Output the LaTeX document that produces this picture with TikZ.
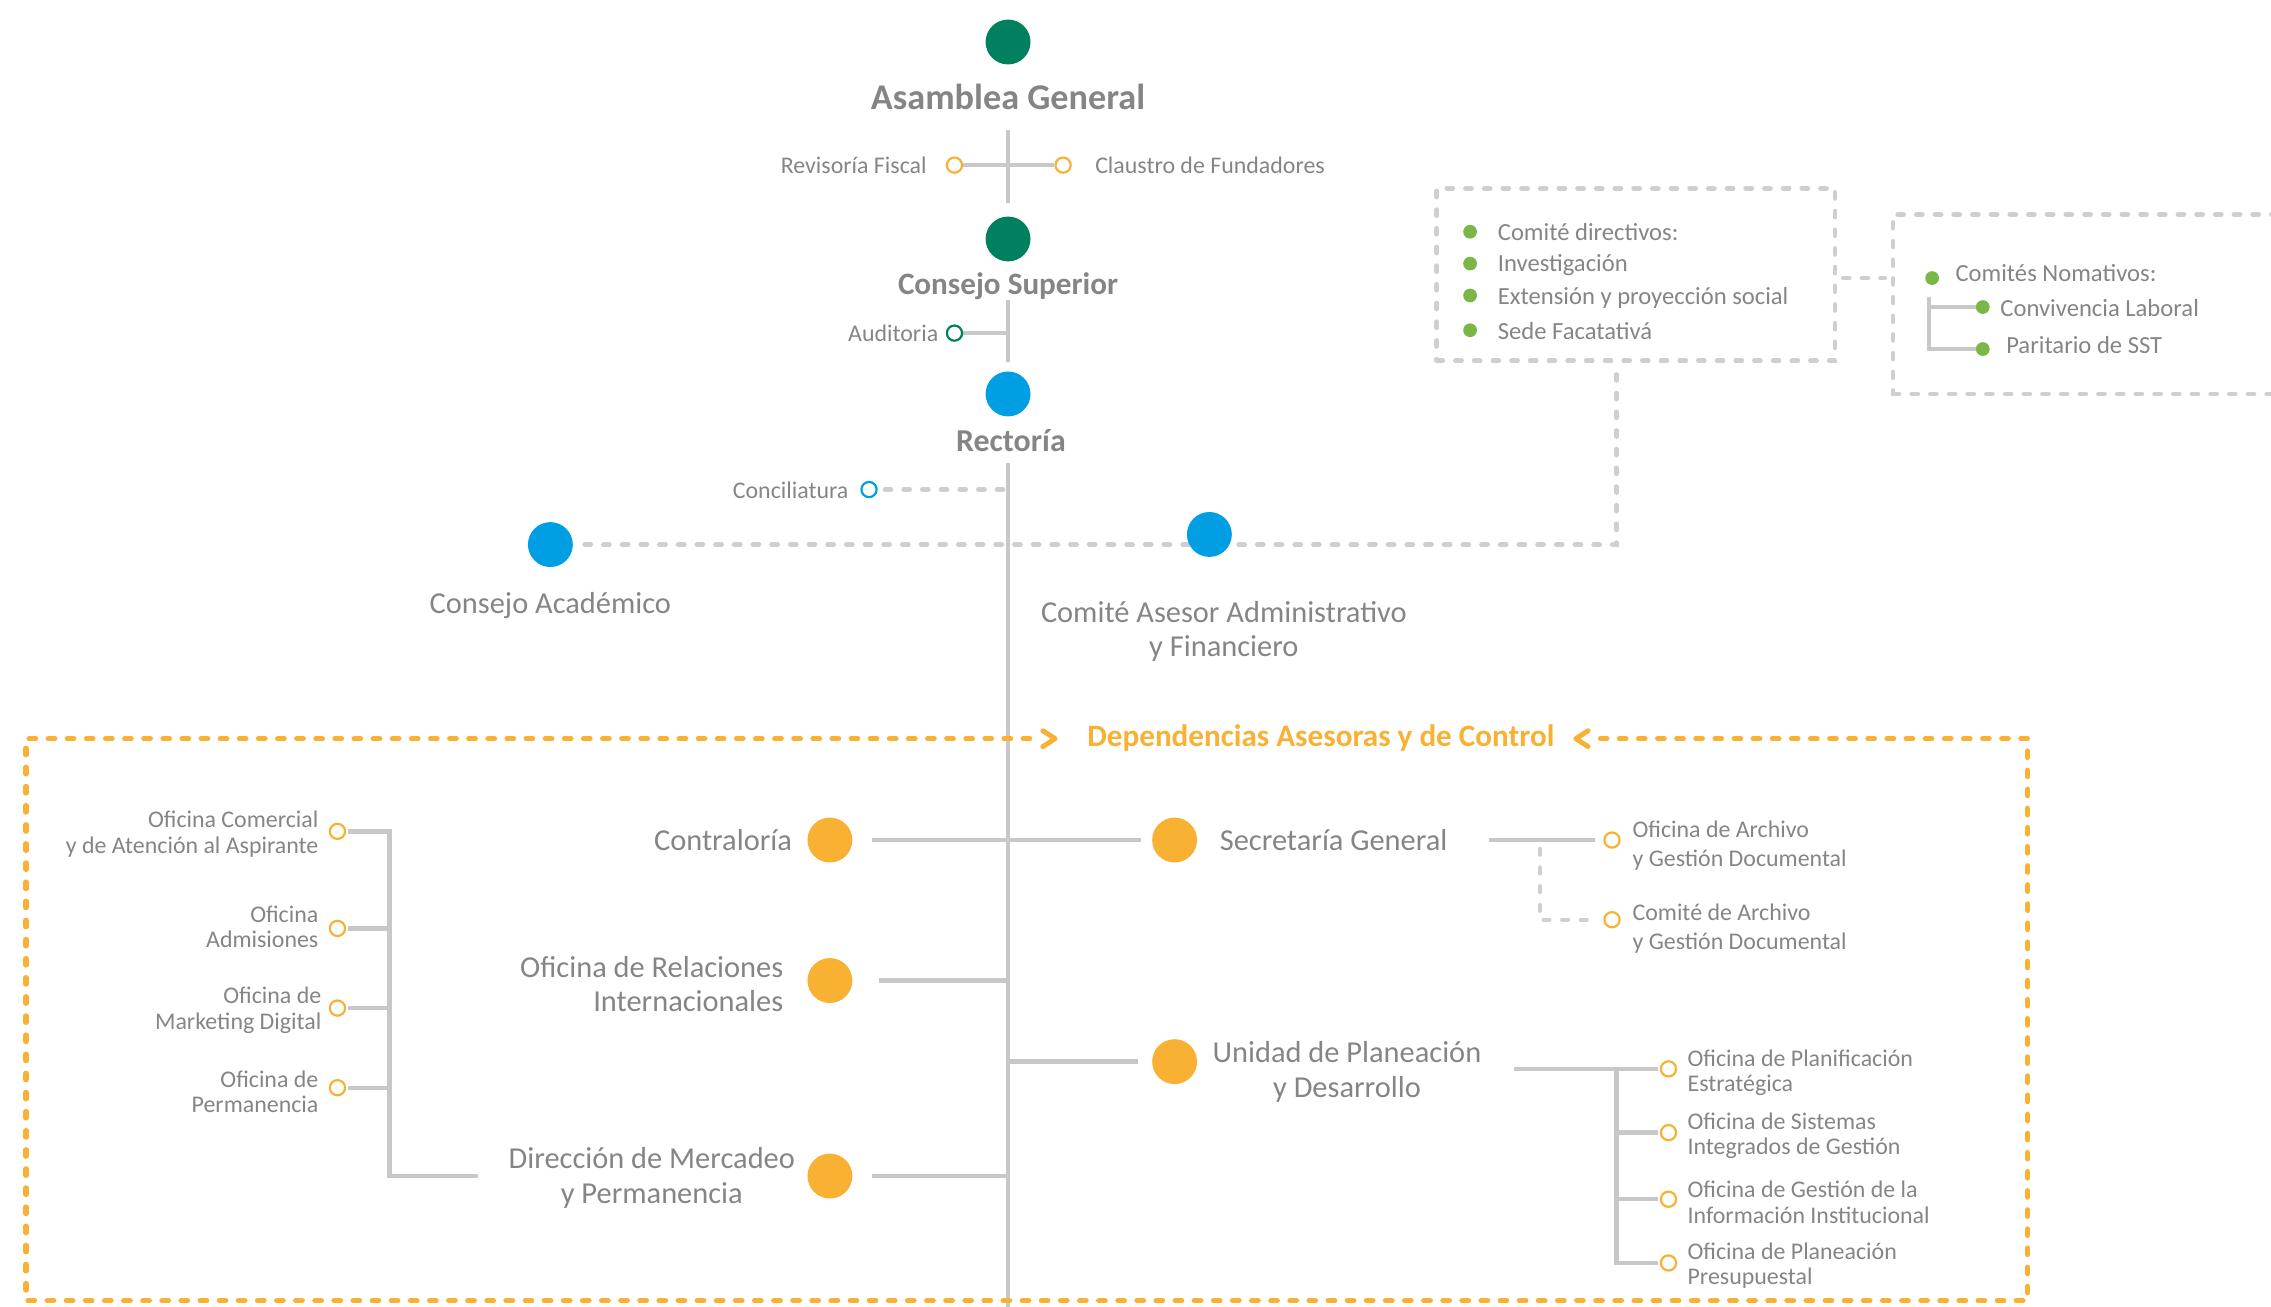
\documentclass[tikz,border=0pt]{standalone}
\usepackage{fontspec}
\setmainfont{Carlito}
\usetikzlibrary{backgrounds}
\definecolor{cteal}{HTML}{00805F}
\definecolor{cblue}{HTML}{009FE3}
\definecolor{org}{HTML}{F8B133}
\definecolor{bgreen}{HTML}{7AB648}
\definecolor{tgray}{HTML}{858585}
\definecolor{lgray}{HTML}{C8C8C8}
\definecolor{dgray}{HTML}{CFCFCF}
\begin{document}
\begin{tikzpicture}[x=1pt,y=-1pt,
  bigdot/.style={circle,fill=#1,minimum size=31pt,inner sep=0pt},
  ring/.style={circle,draw=#1,line width=1.5pt,minimum size=10.5pt,inner sep=0pt,fill=white},
  bul/.style={circle,fill=bgreen,minimum size=9.5pt,inner sep=0pt},
  conn/.style={draw=lgray,line width=3pt},
  dline/.style={draw=dgray,line width=3.2pt,line cap=round,dash pattern=on 4.2pt off 8.7pt},
  oline/.style={draw=org,line width=3.6pt,line cap=round,dash pattern=on 4.5pt off 8.7pt},
  chev/.style={draw=org,line width=3.4pt,line cap=round,line join=round},
  lab/.style={text=tgray,inner sep=0pt,font=\fontsize{21}{24}\selectfont},
  hd/.style={text=tgray,inner sep=0pt,font=\bfseries\fontsize{#1}{#1}\selectfont},
  sm/.style={text=tgray,inner sep=0pt,font=\fontsize{16.5}{17.5}\selectfont},
  smb/.style={text=tgray,inner sep=0pt,font=\fontsize{16.5}{20}\selectfont},
  bx/.style={text=tgray,inner sep=0pt,font=\fontsize{17}{20}\selectfont},
]
\useasboundingbox (0,0) rectangle (1568,902);
\clip (0,0) rectangle (1568,902);

% spine coordinates
\coordinate (s1) at (696,90); \coordinate (s2) at (696,140);
\coordinate (s3) at (696,207); \coordinate (s4) at (696,250);
\coordinate (mt) at (696,320); \coordinate (mb) at (696,905);

% top
\node[bigdot=cteal] (ag) at (696,29) {};
\node[hd=25,anchor=mid] (agt) at (696,73.5) {Asamblea General};
\node[ring=org] (rf) at (659,114) {};
\node[ring=org] (cf) at (734,114) {};
\node[sm,anchor=mid east] (rft) at (640,117.5) {Revisoría Fiscal};
\node[sm,anchor=mid west] (cft) at (756,117.5) {Claustro de Fundadores};

\node[bigdot=cteal] (cs) at (696,165) {};
\node[hd=21.5,anchor=mid] (cst) at (696,201) {Consejo Superior};
\node[ring=cteal] (au) at (659,230) {};
\node[sm,anchor=mid east] (aut) at (648,233.5) {Auditoria};

\node[bigdot=cblue] (re) at (696,272) {};
\node[hd=22,anchor=mid] (ret) at (698,309.5) {Rectoría};
\node[ring=cblue] (co) at (600,338) {};
\node[sm,anchor=mid east] (cot) at (586,341.5) {Conciliatura};

\node[bigdot=cblue] (cad) at (380,376) {};
\node[lab,anchor=mid] (cadt) at (380,421.5) {Consejo Académico};
\node[bigdot=cblue] (cas) at (835,369) {};
\node[lab,align=center] (cast) at (845,436) {Comité Asesor Administrativo\\y Financiero};

% box 1
\node[dline,minimum width=275pt,minimum height=119pt,inner sep=0pt] (box1) at (1129.5,189.5) {};
\node[bul] (b1) at (1015,160) {};
\node[bx,anchor=mid west] (bt1) at (1034,164) {Comité directivos:};
\node[bul] (b2) at (1015,182) {};
\node[bx,anchor=mid west] (bt2) at (1034,185) {Investigación};
\node[bul] (b3) at (1015,204) {};
\node[bx,anchor=mid west] (bt3) at (1034,208) {Extensión y proyección social};
\node[bul] (b4) at (1015,228) {};
\node[bx,anchor=mid west] (bt4) at (1034,232) {Sede Facatativá};

% box 2
\node[dline,minimum width=290pt,minimum height=124pt,inner sep=0pt] (box2) at (1452,210) {};
\node[bul] (cn) at (1334,192) {};
\node[bx,anchor=mid west] (cnt) at (1350,192) {Comités Nomativos:};
\node[bul] (cl) at (1369,212) {};
\node[bx,anchor=mid west] (clt) at (1381,216) {Convivencia Laboral};
\node[bul] (ps) at (1369,241) {};
\node[bx,anchor=mid west] (pst) at (1385,242) {Paritario de SST};
\coordinate (t2) at (1332,205);
\coordinate (j1) at (1116,376);

% orange frame
\coordinate (o1) at (18,510); \coordinate (o2) at (18,898);
\coordinate (o3) at (1400,898); \coordinate (o4) at (1400,510);
\coordinate (ol) at (711,510); \coordinate (or) at (1105,510);
\node[inner sep=0pt,text=org,font=\bfseries\fontsize{21.5}{21.5}\selectfont,anchor=mid] (dep) at (912,513) {Dependencias Asesoras y de Control};

% middle
\node[bigdot=org] (con) at (573,580) {};
\node[lab,anchor=mid east] (cont) at (547,584.5) {Contraloría};
\node[bigdot=org] (sg) at (811,580) {};
\node[lab,anchor=mid west] (sgt) at (842,584.5) {Secretaría General};
\coordinate (j2) at (1028,580);
\coordinate (j3) at (1063,586);
\node[ring=org] (oa) at (1113,580) {};
\node[smb,anchor=west,align=left] (oat) at (1127,584) {Oficina de Archivo\\y Gestión Documental};
\node[ring=org] (ca2) at (1113,635) {};
\node[smb,anchor=west,align=left] (cat) at (1127,641) {Comité de Archivo\\y Gestión Documental};

\node[bigdot=org] (ri) at (573,677) {};
\node[lab,anchor=east,align=right] (rit) at (541,679.5) {Oficina de Relaciones\\Internacionales};

\node[bigdot=org] (up) at (811,733) {};
\node[lab,align=center] (upt) at (930,740) {Unidad de Planeación\\y Desarrollo};
\coordinate (j4) at (1045,738); \coordinate (j5) at (1116,738);
\node[ring=org] (pe) at (1152,738) {};
\node[ring=org] (si) at (1152,782) {};
\node[ring=org] (gi) at (1152,828) {};
\node[ring=org] (pp) at (1152,872) {};
\node[sm,anchor=west,align=left] (pet) at (1165,740.5) {Oficina de Planificación\\Estratégica};
\node[sm,anchor=west,align=left] (sit) at (1165,784) {Oficina de Sistemas\\Integrados de Gestión};
\node[sm,anchor=west,align=left] (git) at (1165,830) {Oficina de Gestión de la\\Información Institucional};
\node[sm,anchor=west,align=left] (ppt) at (1165,874) {Oficina de Planeación\\Presupuestal};

\node[bigdot=org] (dm) at (573,812) {};
\node[lab,align=center] (dmt) at (450,813) {Dirección de Mercadeo\\y Permanencia};

% left tree
\coordinate (j6) at (330,812); \coordinate (j7) at (269,812);
\node[ring=org] (oc) at (233,574) {};
\node[ring=org] (oad) at (233,641) {};
\node[ring=org] (omd) at (233,696) {};
\node[ring=org] (ope) at (233,751) {};
\node[sm,anchor=east,align=right] (oct) at (220,576) {Oficina Comercial\\y de Atención al Aspirante};
\node[sm,anchor=east,align=right] (oadt) at (220,640) {Oficina\\Admisiones};
\node[sm,anchor=east,align=right] (omdt) at (222,697.5) {Oficina de\\Marketing Digital};
\node[sm,anchor=east,align=right] (opet) at (220,754) {Oficina de\\Permanencia};

\begin{pgfonlayer}{background}
  \draw[conn] (s1) -- (s2);
  \draw[conn] (s3) -- (s4);
  \draw[conn] (mt) -- (mb);
  \draw[conn] (rf) -- (cf);
  \draw[conn] (au) -- (au -| s3);
  \draw[dline,shorten <=5pt] (co) -- (co -| mt);
  \draw[dline,shorten <=8pt] (cad) -- (j1) -- (j1 |- box1.south);
  \draw[dline,shorten <=4pt,shorten >=4pt] (box1.east |- cn) -- (box2.west |- cn);
  \draw[conn] (t2) |- (ps);
  \draw[conn] (t2 |- cl) -- (cl);
  % orange frame
  \draw[oline] (ol) -- (o1) -- (o2) -- (o3) -- (o4) -- (or);
  \draw[chev] (720,504.5) -- (728.5,510) -- (720,515.5);
  \draw[chev] (1096.5,504.5) -- (1088,510) -- (1096.5,515.5);
  % middle connectors
  \draw[conn,shorten <=13.5pt,shorten >=7.5pt] (con) -- (sg);
  \draw[conn,shorten >=6pt] (j2) -- (oa);
  \draw[dline,line width=2.8pt,shorten >=10pt] (j3) |- (ca2);
  \draw[conn,shorten <=18.5pt] (ri) -- (ri -| mt);
  \draw[conn,shorten >=9.5pt] (up -| mt) -- (up);
  \draw[conn,shorten >=1pt] (j4) -- (pe);
  \draw[conn,shorten >=1pt] (j5) |- (pp);
  \draw[conn,shorten >=1pt] (j5 |- si) -- (si);
  \draw[conn,shorten >=1pt] (j5 |- gi) -- (gi);
  \draw[conn,shorten <=13.5pt] (dm) -- (dm -| mt);
  \draw[conn,shorten >=1pt] (j6) -- (j7) |- (oc);
  \draw[conn,shorten >=1pt] (j7 |- oad) -- (oad);
  \draw[conn,shorten >=1pt] (j7 |- omd) -- (omd);
  \draw[conn,shorten >=1pt] (j7 |- ope) -- (ope);
\end{pgfonlayer}
\end{tikzpicture}
\end{document}
